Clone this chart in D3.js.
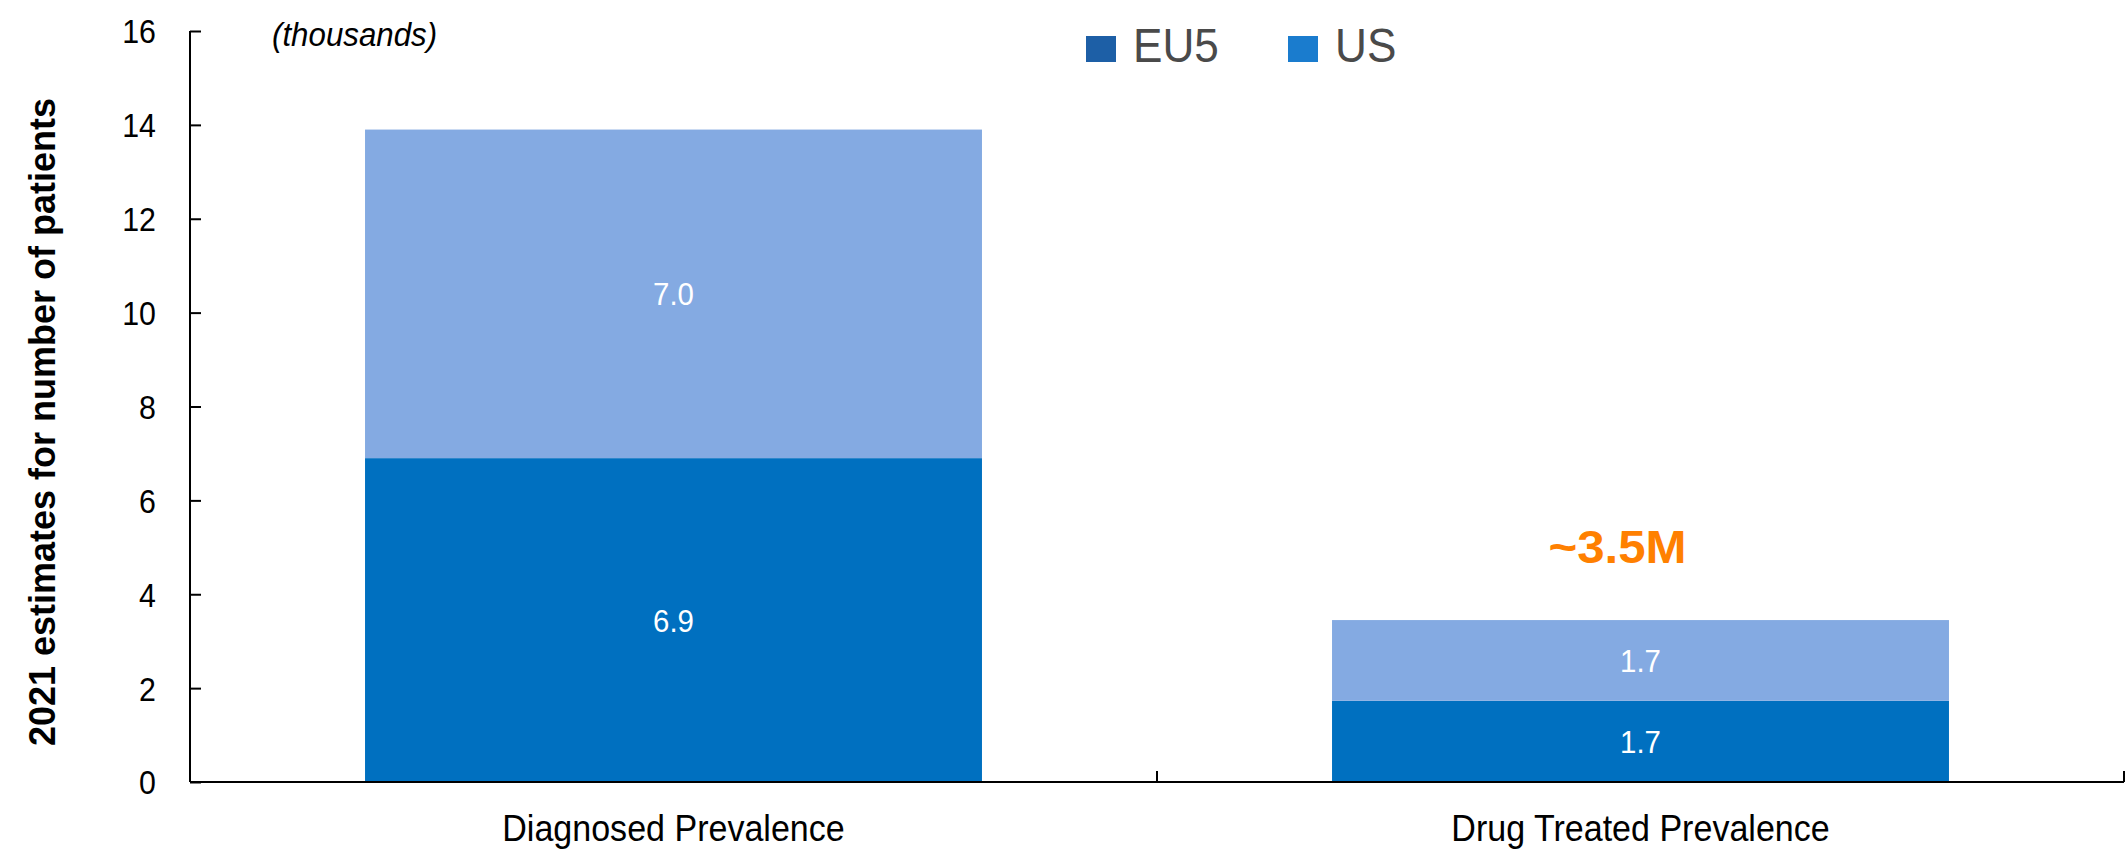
<!DOCTYPE html>
<html>
<head>
<meta charset="utf-8">
<script src="https://cdn.jsdelivr.net/npm/d3@7"></script>
<style>
  html, body { margin: 0; padding: 0; background: #fff; }
  svg { display: block; }
  text { font-family: "Liberation Sans", Arial, sans-serif; }
</style>
</head>
<body>
<svg id="chart" width="2126" height="857"></svg>
<script>
// ---- data ----
const categories = ["Diagnosed Prevalence", "Drug Treated Prevalence"];
const seriesNames = ["EU5", "US"];
const eu5Values = [6.9, 1.73];
const usValues = [7.0, 1.72];
const yTicks = [0, 2, 4, 6, 8, 10, 12, 14, 16];
const yLabel = "2021 estimates for number of patients";
const unitNote = "(thousands)";
const annotation = "~3.5M";
const barColors = ["#0070C0", "#84AAE2"];
const legendColors = ["#1d5fa6", "#1a7cce"];

// ---- layout ----
const svg = d3.select("#chart");
const plotLeft = 190, plotRight = 2124, plotTop = 31, plotBottom = 782;

const x = d3.scaleBand().domain(categories).range([plotLeft, plotRight])
  .paddingInner(0.362).paddingOuter(0.181);
const y = d3.scaleLinear().domain([0, 16]).range([plotBottom, plotTop]);

const rows = categories.map((c, i) => ({ cat: c, EU5: eu5Values[i], US: usValues[i] }));
const stack = d3.stack().keys(seriesNames)(rows);

// bars
const layers = svg.append("g").selectAll("g").data(stack).join("g")
  .attr("fill", (d, i) => barColors[i]);
layers.selectAll("rect").data(d => d).join("rect")
  .attr("x", d => x(d.data.cat))
  .attr("width", x.bandwidth())
  .attr("y", d => y(d[1]))
  .attr("height", d => y(d[0]) - y(d[1]));

// value labels
layers.selectAll("text").data(d => d.map(v => ({ v, key: d.key }))).join("text")
  .attr("transform", d => `translate(${x(d.v.data.cat) + x.bandwidth() / 2},${(y(d.v[0]) + y(d.v[1])) / 2}) scale(0.92,1)`)
  .attr("text-anchor", "middle")
  .attr("dy", "0.36em")
  .attr("fill", "#fff")
  .attr("font-size", 32)
  .text(d => d3.format(".1f")(d.v.data[d.key]));

// y axis
const yAxis = svg.append("g").attr("transform", `translate(${plotLeft},0)`)
  .call(d3.axisLeft(y).tickValues(yTicks).tickSize(-11).tickPadding(34));
yAxis.select(".domain").attr("stroke", "#000").attr("stroke-width", 2).attr("d", `M0,${plotTop}V${plotBottom}`);
yAxis.selectAll(".tick line").attr("stroke", "#000").attr("stroke-width", 2);
yAxis.selectAll(".tick text")
  .attr("x", null)
  .attr("transform", "translate(-34,0) scale(0.92,1)")
  .attr("dy", "0.36em")
  .attr("font-family", "'Liberation Sans', Arial, sans-serif")
  .attr("font-size", 33)
  .attr("fill", "#000");

// x axis
const xAxis = svg.append("g").attr("transform", `translate(0,${plotBottom})`)
  .call(d3.axisBottom(x).tickSize(0).tickPadding(33));
xAxis.select(".domain").attr("stroke", "#000").attr("stroke-width", 2).attr("d", `M${plotLeft},0H${plotRight}`);
xAxis.selectAll(".tick text")
  .attr("transform", "scale(0.92,1)")
  .attr("font-family", "'Liberation Sans', Arial, sans-serif")
  .attr("font-size", 37)
  .attr("fill", "#000");

// category boundary ticks
const boundaries = [plotLeft].concat(categories.map(c => x(c) + x.bandwidth() + x.step() * x.paddingInner() / 2));
boundaries[boundaries.length - 1] = plotRight;
xAxis.selectAll(".bound").data(boundaries).join("line")
  .attr("class", "bound")
  .attr("x1", d => d).attr("x2", d => d)
  .attr("y1", 0).attr("y2", -11)
  .attr("stroke", "#000").attr("stroke-width", 2);

// y label
svg.append("text")
  .attr("transform", "translate(55,422) rotate(-90)")
  .attr("text-anchor", "middle")
  .attr("font-weight", "bold")
  .attr("font-size", 36)
  .attr("fill", "#000")
  .text(yLabel);

// unit note
svg.append("text")
  .attr("transform", "translate(272,46) scale(0.92,1)")
  .attr("font-style", "italic")
  .attr("font-size", 34)
  .attr("fill", "#000")
  .text(unitNote);

// annotation
const last = rows[rows.length - 1];
svg.append("text")
  .attr("transform", `translate(${x(last.cat) + x.bandwidth() / 2 - 23},${y(last.EU5 + last.US) - 57}) scale(1.07,1)`)
  .attr("text-anchor", "middle")
  .attr("font-weight", "bold")
  .attr("font-size", 46)
  .attr("fill", "#FF8000")
  .text(annotation);

// legend
const legend = svg.append("g").selectAll("g").data(seriesNames).join("g")
  .attr("transform", (d, i) => `translate(${1086 + i * 202},36)`);
legend.append("rect").attr("width", 30).attr("height", 26)
  .attr("fill", (d, i) => legendColors[i]);
legend.append("text")
  .attr("transform", "translate(47,26) scale(0.92,1)")
  .attr("font-size", 48)
  .attr("fill", "#4a4a4a")
  .text(d => d);
</script>
</body>
</html>
